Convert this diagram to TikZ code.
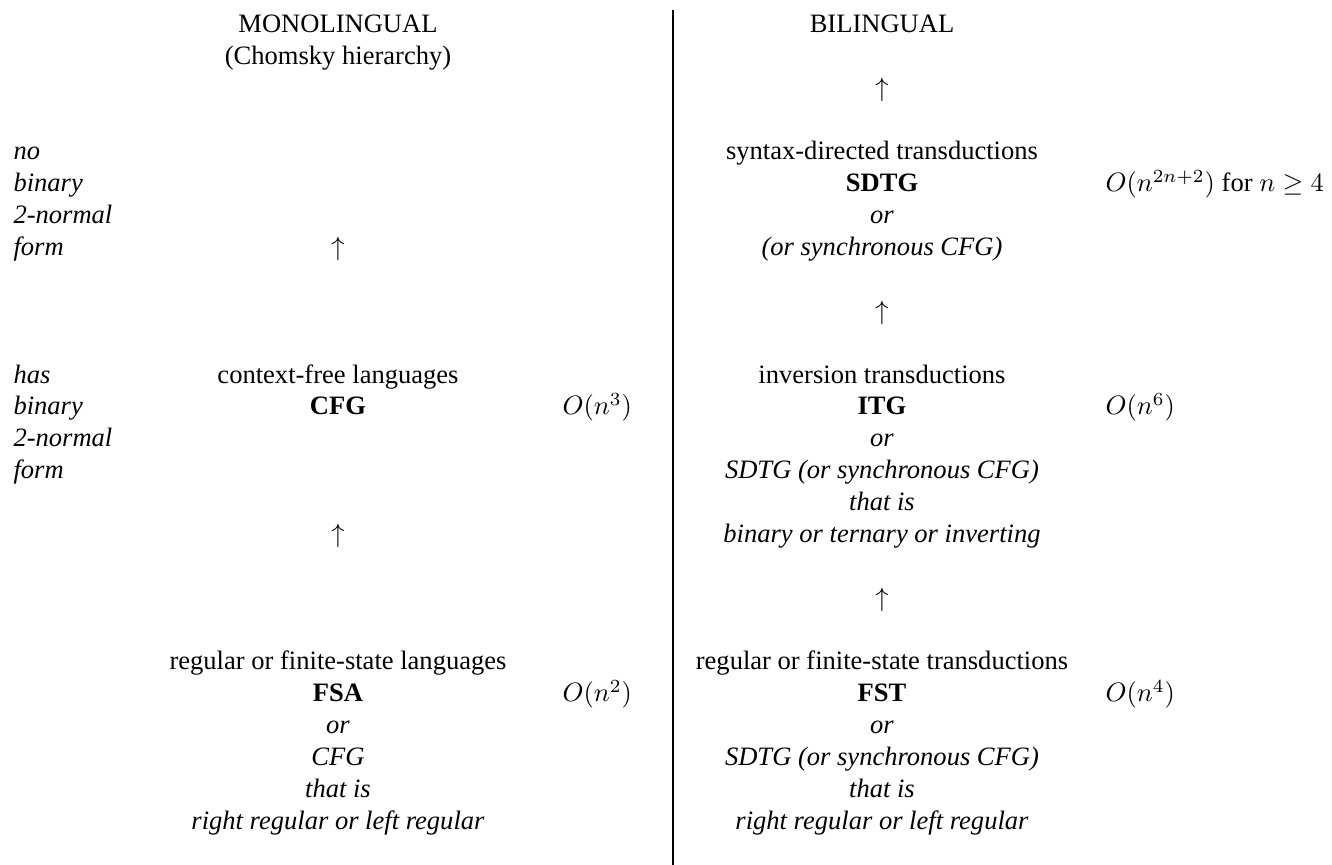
\documentclass[tikz,border=0pt]{standalone}
\usepackage{fontspec}
\setmainfont{Liberation Serif}
\newcommand{\colstack}[1]{\begin{tabular}[t]{@{}c@{}}#1\end{tabular}}
\newcommand{\leftstack}[1]{\begin{tabular}[t]{@{}l@{}}#1\end{tabular}}

\begin{document}
\begin{tikzpicture}[x=0.37665pt,y=-0.37665pt,
    every node/.style={inner sep=0pt},
    blk/.style={anchor=base},
    lbl/.style={anchor=base west}]
    \useasboundingbox (0,0) rectangle (1332,865);
    % headings
    \node[blk] (mono) at (338,32.6) {\colstack{MONOLINGUAL\\(Chomsky hierarchy)}};
    \node[blk] (bi) at (882,32.6) {\colstack{BILINGUAL}};
    % separating rule
    \coordinate (ruletop) at (673,10);
    \coordinate (rulebot) at (673,865);
    \draw[line width=0.4pt] (ruletop) -- (rulebot);
    % side labels
    \node[lbl] (nobin) at (13,160) {\leftstack{\textit{no}\\\textit{binary}\\\textit{2-normal}\\\textit{form}}};
    \node[lbl] (hasbin) at (13,383.1) {\leftstack{\textit{has}\\\textit{binary}\\\textit{2-normal}\\\textit{form}}};
    % monolingual column
    \node[blk] (up1) at (338,255.6) {$\uparrow$};
    \node[blk] (cfl) at (338,383.1) {\colstack{context-free languages\\\textbf{CFG}}};
    \node[lbl] (cflcost) at (562,414.9) {$O(n^3)$};
    \node[blk] (up2) at (338,542.4) {$\uparrow$};
    \node[blk] (fsa) at (338,669.8) {\colstack{regular or finite-state languages\\\textbf{FSA}\\\textit{or}\\\textit{CFG}\\\textit{that is}\\\textit{right regular or left regular}}};
    \node[lbl] (fsacost) at (562,701.7) {$O(n^2)$};
    % bilingual column
    \node[blk] (up3) at (882,96.3) {$\uparrow$};
    \node[blk] (sdtg) at (882,160) {\colstack{syntax-directed transductions\\\textbf{SDTG}\\\textit{or}\\\textit{(or synchronous CFG)}}};
    \node[lbl] (sdtgcost) at (1105,191.9) {$O(n^{2n+2})$ for $n\geq 4$};
    \node[blk] (up4) at (882,319.3) {$\uparrow$};
    \node[blk] (itg) at (882,383.1) {\colstack{inversion transductions\\\textbf{ITG}\\\textit{or}\\\textit{SDTG (or synchronous CFG)}\\\textit{that is}\\\textit{binary or ternary or inverting}}};
    \node[lbl] (itgcost) at (1105,414.9) {$O(n^6)$};
    \node[blk] (up5) at (882,606.1) {$\uparrow$};
    \node[blk] (fst) at (882,669.8) {\colstack{regular or finite-state transductions\\\textbf{FST}\\\textit{or}\\\textit{SDTG (or synchronous CFG)}\\\textit{that is}\\\textit{right regular or left regular}}};
    \node[lbl] (fstcost) at (1105,701.7) {$O(n^4)$};
\end{tikzpicture}
\end{document}
